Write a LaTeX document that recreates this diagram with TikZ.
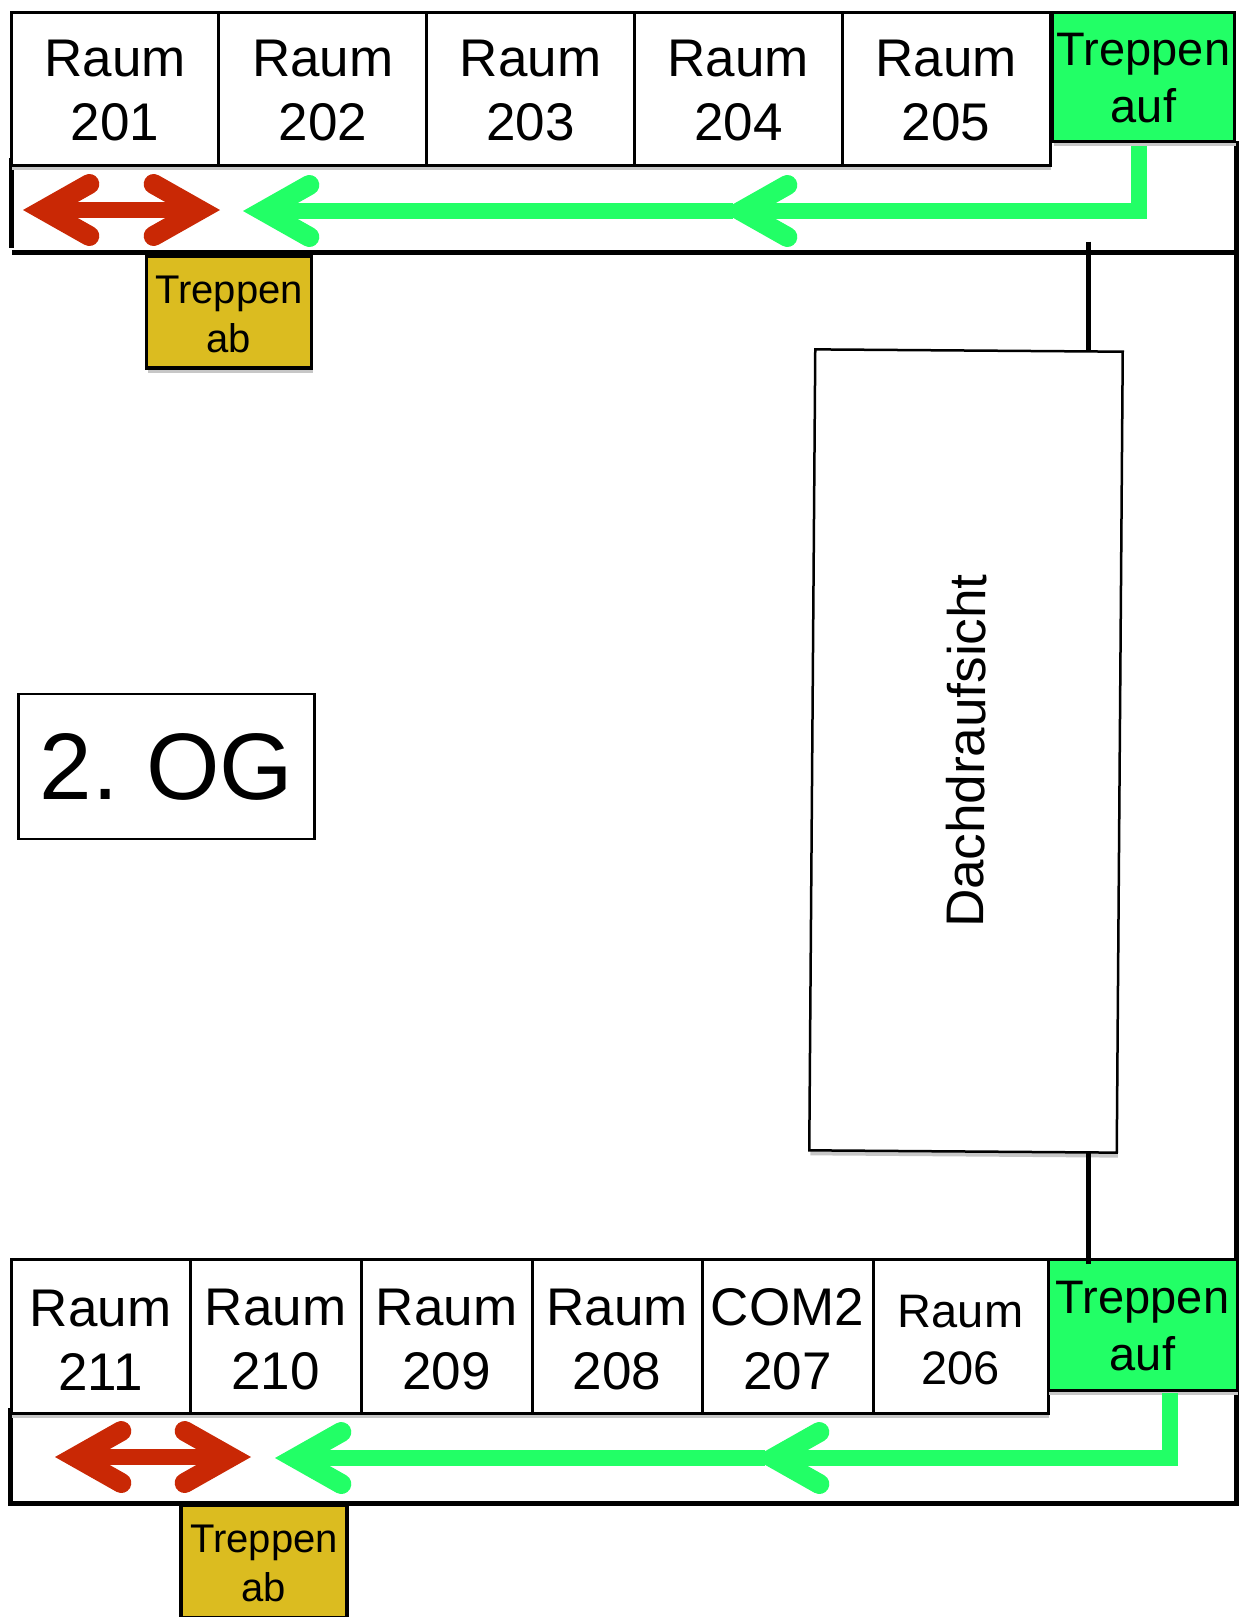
\documentclass[tikz,border=0pt]{standalone}
\usepackage{fontspec}
\setmainfont{Liberation Sans}
\definecolor{StairGreen}{HTML}{22FF66}
\definecolor{StairGold}{HTML}{DBBC20}
\definecolor{ArrowRed}{HTML}{C92805}
\usetikzlibrary{arrows.meta, positioning, calc, shadows}
\tikzset{
  % Shadow under the boxes
  softshadow/.style={drop shadow={shadow xshift=1pt, shadow yshift=-5pt, fill=black!22, opacity=1}},
  % Box styles
  roombox/.style={rectangle, draw=black, fill=white, line width=3pt, outer sep=0pt, inner sep=0pt, align=center, softshadow, text height=104pt, font=\fontsize{53}{64}\selectfont},
  upbox/.style={rectangle, draw=black, fill=StairGreen, line width=3pt, outer sep=0pt, inner sep=0pt, align=center, softshadow, text height=93pt, font=\fontsize{47}{57}\selectfont},
  downbox/.style={rectangle, draw=black, fill=StairGold, line width=3.5pt, outer sep=0pt, inner sep=0pt, align=center, minimum height=112pt, softshadow, text height=81pt, font=\fontsize{40}{49}\selectfont},
  % Arrow styles
  barbtip/.tip={Straight Barb[length=46pt, width=52pt, line width=20pt, line cap=round, line join=miter]},
  redarrow/.style={barbtip-barbtip, line width=16pt, ArrowRed},
  greenarrow/.style={-barbtip, line width=16pt, StairGreen, line join=miter},
  wall/.style={line width=5pt, black}
}
\begin{document}
\begin{tikzpicture}[x=1pt, y=-1pt]
  \useasboundingbox (0,0) rectangle (1241,1617);

  % Walls
  \coordinate (wallA) at (11,158);
  \coordinate (wallB) at (11,248);
  \coordinate (wallC) at (12,252);
  \coordinate (wallD) at (1236,252);
  \coordinate (wallE) at (1236,141);
  \coordinate (wallF) at (1236,1503);
  \coordinate (wallG) at (10.5,1503);
  \coordinate (wallH) at (10.5,1408);
  \draw[wall] (wallA) -- (wallB);
  \draw[wall] (wallC) -- (wallD);
  \draw[wall] (wallE) -- (wallF) -- (wallG) -- (wallH);

  % Upper row
  \node[roombox, minimum width=207.8pt, minimum height=153pt] (r201) at (115,88.5) {Raum\\201};
  \node[roombox, minimum width=207.8pt, minimum height=153pt, right=0pt of r201] (r202) {Raum\\202};
  \node[roombox, minimum width=207.8pt, minimum height=153pt, right=0pt of r202] (r203) {Raum\\203};
  \node[roombox, minimum width=207.8pt, minimum height=153pt, right=0pt of r203] (r204) {Raum\\204};
  \node[roombox, minimum width=207.8pt, minimum height=153pt, right=0pt of r204] (r205) {Raum\\205};
  \node[upbox, minimum width=182pt, minimum height=129pt] (up1) at (1143.5,76.5) {Treppen\\auf};
  \node[downbox, minimum width=165pt] (down1) at (229,312) {Treppen\\ab};

  % Lower row
  \node[roombox, minimum width=179pt, minimum height=154pt, text height=108pt] (r211) at (100.5,1336) {Raum\\211};
  \node[roombox, minimum width=171pt, minimum height=154pt, text height=108pt, right=0pt of r211] (r210) {Raum\\210};
  \node[roombox, minimum width=171pt, minimum height=154pt, text height=108pt, right=0pt of r210] (r209) {Raum\\209};
  \node[roombox, minimum width=170pt, minimum height=154pt, text height=108pt, right=0pt of r209] (r208) {Raum\\208};
  \node[roombox, minimum width=171pt, minimum height=154pt, text height=108pt, right=0pt of r208] (r207) {COM2\\207};
  \node[roombox, minimum width=175pt, minimum height=154pt, text height=98pt, right=0pt of r207, font=\fontsize{47}{57}\selectfont] (r206) {Raum\\206};
  \node[upbox, minimum width=189pt, minimum height=131pt] (up2) at (1142.5,1324.5) {Treppen\\auf};
  \node[downbox, minimum width=166pt] (down2) at (264,1561.5) {Treppen\\ab};

  % Roof and floor label
  \node[rectangle, draw=black, fill=white, line width=2.5pt, outer sep=0pt, minimum width=801pt, minimum height=307.5pt, rotate=89.57, softshadow, font=\fontsize{53}{60}\selectfont] (roof) at (966,751) {Dachdraufsicht};
  \node[rectangle, draw=black, line width=2.5pt, outer sep=0pt, minimum width=296pt, minimum height=145pt, font=\fontsize{94.5}{110}\selectfont] (floor) at (166.5,766.5) {2.\hspace{-7pt} OG};

  % Roof links
  \coordinate (linkA) at (1088,241.5);
  \coordinate (linkB) at (1088,1264);
  \draw[wall] (linkA) -- (linkA |- roof.east);
  \draw[wall] (linkB) -- (linkB |- roof.west);

  % Upper arrows
  \coordinate (redL1) at (23,210);
  \coordinate (redR1) at (220,210);
  \draw[redarrow] (redL1) -- (redR1);
  \coordinate (midA) at (721,211);
  \coordinate (endA) at (243,211);
  \draw[greenarrow] ($(up1.south)+(-5,5)$) |- (midA);
  \draw[greenarrow] ($(midA)+(12,0)$) -- (endA);

  % Lower arrows
  \coordinate (redL2) at (55,1457);
  \coordinate (redR2) at (251,1457);
  \draw[redarrow] (redL2) -- (redR2);
  \coordinate (midB) at (753,1458);
  \coordinate (endB) at (275,1458);
  \draw[greenarrow] ($(up2.south)+(27,3)$) |- (midB);
  \draw[greenarrow] ($(midB)+(12,0)$) -- (endB);
\end{tikzpicture}
\end{document}
